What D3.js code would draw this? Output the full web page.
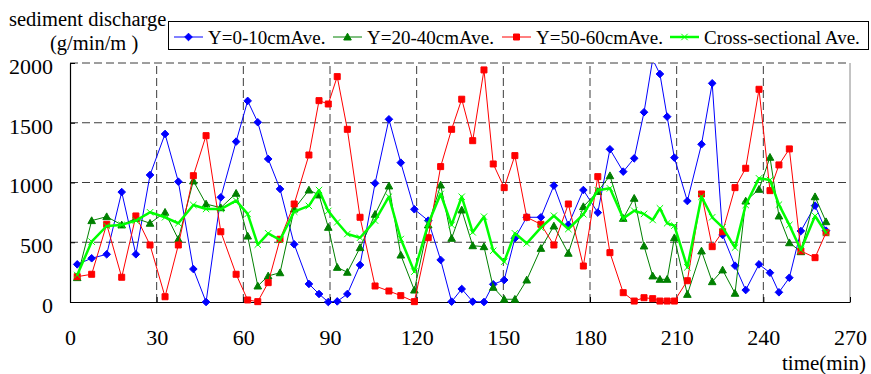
<!DOCTYPE html>
<html>
<head>
<meta charset="utf-8">
<script src="https://cdn.jsdelivr.net/npm/d3@7"></script>
<style>
  body { margin: 0; background: #fff; }
</style>
</head>
<body>
<div id="chart"></div>
<script>
// sample times (min), shared by all series
const times = [2.5, 7.5, 12.7, 17.9, 22.8, 27.7, 32.9, 37.5, 42.7, 47.1, 52.2, 57.5, 61.5, 65, 68.6, 72.7, 77.6, 82.7, 86.2, 89.4,
  92.5, 96, 100.4, 105.6, 110.4, 114.5, 119.2, 124, 128.3, 132.1, 135.6, 139.4, 143.3, 146.5, 150.3, 154, 158.1, 163, 167.5, 172.5,
  177.7, 182.7, 186.9, 191.5, 195.3, 198.7, 201.7, 204.2, 206.7, 209.2, 213.7, 218.6, 222.3, 225.9, 230.2, 233.9, 238.5, 242.3, 245.4, 249,
  253, 257.9, 261.7];

const y0to10 = [315, 366, 399, 920, 399, 1063, 1406, 1007, 276, 0, 876, 1342, 1683, 1504, 1197, 946, 483, 151, 67, 0,
  5, 67, 310, 993, 1529, 1166, 776, 681, 352, 3, 109, 3, 0, 148, 184, 533, 709, 709, 974, 645,
  937, 748, 1278, 1091, 1202, 1588, 2030, 1908, 1551, 1208, 845, 1320, 1830, 561, 304, 100, 315, 245, 81, 203,
  594, 806, 597];

const y20to40 = [204, 681, 714, 645, 700, 659, 751, 525, 1013, 820, 789, 910, 552, 134, 218, 245, 778, 937, 896, 625,
  290, 249, 455, 734, 971, 393, 100, 645, 979, 533, 770, 471, 463, 123, 23, 23, 184, 449, 636, 408,
  798, 925, 1057, 700, 868, 469, 218, 190, 190, 538, 64, 427, 170, 268, 73, 845, 943, 1211, 720, 496,
  421, 881, 672];

const y50to60 = [212, 232, 650, 207, 720, 477, 44, 477, 1057, 1392, 588, 232, 17, 3, 162, 525, 820, 1230, 1685, 1657,
  1886, 1445, 709, 134, 92, 53, 3, 538, 1133, 1445, 1697, 1350, 1942, 1155, 957, 1225, 709, 650, 477, 820,
  301, 1049, 413, 78, 8, 36, 28, 8, 8, 8, 178, 904, 463, 588, 957, 1119, 1780, 932, 1147, 1281,
  427, 371, 580];

const crossAve = [226, 505, 636, 645, 681, 751, 709, 659, 812, 778, 778, 848, 737, 480, 575, 519, 756, 804, 937, 762,
  667, 569, 538, 681, 881, 527, 254, 655, 904, 645, 881, 583, 714, 429, 337, 575, 491, 622, 722, 611,
  734, 935, 951, 700, 764, 737, 686, 784, 659, 639, 290, 881, 709, 625, 455, 812, 1035, 1021, 815, 645,
  435, 720, 580];

const xTicks = [0, 30, 60, 90, 120, 150, 180, 210, 240, 270];
const yTicks = [0, 500, 1000, 1500, 2000];

const series = [
  { name: 'Y=0-10cmAve.', values: y0to10, color: '#0000ff', width: 1, marker: 'diamond' },
  { name: 'Y=20-40cmAve.', values: y20to40, color: '#008000', width: 1, marker: 'triangle' },
  { name: 'Y=50-60cmAve.', values: y50to60, color: '#ff0000', width: 1, marker: 'square' },
  { name: 'Cross-sectional Ave.', values: crossAve, color: '#00ff00', width: 2.5, marker: 'cross' }
];

const W = 871, H = 374;
const margin = { top: 63, right: 21, bottom: 72, left: 70 };
const FONT = '"Liberation Serif", "Times New Roman", serif';

const svg = d3.select('#chart').append('svg')
  .attr('width', W)
  .attr('height', H);

const x = d3.scaleLinear().domain([0, 270]).range([margin.left, W - margin.right]);
const y = d3.scaleLinear().domain([0, 2000]).range([H - margin.bottom, margin.top]);

// marker shapes
function markerPath(type) {
  if (type === 'diamond') return 'M0,-3.8L3.8,0L0,3.8L-3.8,0Z';
  if (type === 'triangle') return 'M0,-3.8L3.8,3L-3.8,3Z';
  if (type === 'square') return 'M-3,-3H3V3H-3Z';
  return 'M-3.2,-3.2L3.2,3.2M-3.2,3.2L3.2,-3.2';
}

function addText(sel, size) {
  return sel.style('font-family', FONT).style('font-size', size + 'px').style('fill', '#000');
}

// gridlines
const grid = svg.append('g');
grid.selectAll('line.h')
  .data(yTicks.filter(d => d > 0))
  .enter().append('line')
  .attr('x1', x(0)).attr('x2', x(270))
  .attr('y1', d => y(d)).attr('y2', d => y(d))
  .attr('stroke', '#3c3c3c').attr('stroke-width', 1)
  .attr('stroke-dasharray', '8,4');
grid.selectAll('line.v')
  .data(xTicks.filter(d => d > 0 && d < 270))
  .enter().append('line')
  .attr('y1', y(0)).attr('y2', y(2000))
  .attr('x1', d => x(d)).attr('x2', d => x(d))
  .attr('stroke', '#3c3c3c').attr('stroke-width', 1)
  .attr('stroke-dasharray', '8,4');

// right border
svg.append('line')
  .attr('x1', x(270)).attr('x2', x(270))
  .attr('y1', y(0)).attr('y2', y(2000))
  .attr('stroke', '#888');

// axes
const xAxis = svg.append('g')
  .attr('transform', `translate(0,${y(0)})`)
  .call(d3.axisBottom(x).tickValues(xTicks).tickFormat(d3.format('d'))
    .tickSizeInner(-5).tickSizeOuter(0).tickPadding(27));
const yAxis = svg.append('g')
  .attr('transform', `translate(${x(0)},0)`)
  .call(d3.axisLeft(y).tickValues(yTicks).tickFormat(d3.format('d'))
    .tickSizeInner(-5).tickSizeOuter(0).tickPadding(17));

[xAxis, yAxis].forEach(a => {
  a.attr('font-family', null).attr('font-size', null);
  a.select('.domain').attr('stroke', '#000').attr('stroke-width', 1.2);
  a.selectAll('.tick line').attr('stroke', '#000');
  addText(a.selectAll('.tick text'), 22);
});
yAxis.selectAll('.tick text').attr('dy', '0.47em');

// clip for lines (values above 2000 get cut at the top)
svg.append('defs').append('clipPath').attr('id', 'plotClip')
  .append('rect')
  .attr('x', x(0)).attr('y', y(2000))
  .attr('width', x(270) - x(0)).attr('height', y(0) - y(2000) + 10);

const line = d3.line()
  .x(d => x(d.t))
  .y(d => y(d.v));

series.forEach(s => {
  const pts = times.map((t, i) => ({ t: t, v: s.values[i] }));
  const g = svg.append('g');

  g.append('path')
    .datum(pts)
    .attr('clip-path', 'url(#plotClip)')
    .attr('fill', 'none')
    .attr('stroke', s.color)
    .attr('stroke-width', s.width)
    .attr('stroke-linejoin', 'round')
    .attr('d', line);

  g.selectAll('path.m')
    .data(pts.filter(d => d.v <= 2000))
    .enter().append('path')
    .attr('transform', d => `translate(${x(d.t)},${y(d.v)})`)
    .attr('d', markerPath(s.marker))
    .attr('fill', s.marker === 'cross' ? 'none' : s.color)
    .attr('stroke', s.color)
    .attr('stroke-width', 1);
});

// axis titles
addText(svg.append('text').attr('x', 9).attr('y', 26), 20.5).text('sediment discharge');
addText(svg.append('text').attr('x', 50).attr('y', 50), 20.5).text('(g/min/m )');
addText(svg.append('text').attr('x', 866).attr('y', 370).attr('text-anchor', 'end'), 21).text('time(min)');

// legend
const legend = svg.append('g');
legend.append('rect')
  .attr('x', 168.5).attr('y', 21.5)
  .attr('width', 700).attr('height', 28)
  .attr('fill', '#fff')
  .attr('stroke', '#000');

const legendX = [174, 333, 502, 670];
series.forEach((s, i) => {
  const lg = legend.append('g').attr('transform', `translate(${legendX[i]},37)`);
  lg.append('line')
    .attr('x1', 0).attr('x2', 29)
    .attr('stroke', s.color)
    .attr('stroke-width', s.width);
  lg.append('path')
    .attr('transform', 'translate(14.5,0)')
    .attr('d', markerPath(s.marker))
    .attr('fill', s.marker === 'cross' ? 'none' : s.color)
    .attr('stroke', s.color);
  addText(lg.append('text').attr('x', 34).attr('y', 7), 19).text(s.name);
});
</script>
</body>
</html>
